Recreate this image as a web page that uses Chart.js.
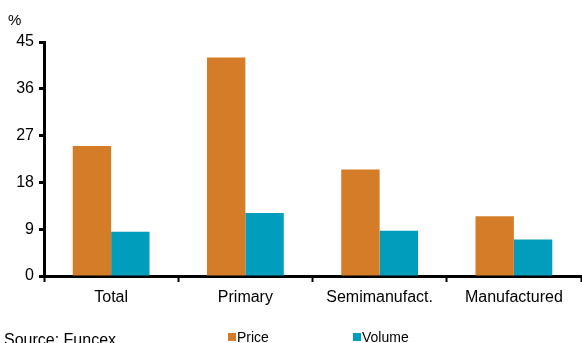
<!DOCTYPE html>
<html>
<head>
<meta charset="utf-8">
<script src="https://cdn.jsdelivr.net/npm/chart.js@4"></script>
<style>
  html, body { margin: 0; padding: 0; background: #fff; }
  #wrap { width: 582px; height: 343px; position: relative; }
</style>
</head>
<body>
<div id="wrap"><canvas id="c" width="582" height="343"></canvas></div>
<script>
const categories = ['Total', 'Primary', 'Semimanufact.', 'Manufactured'];
const priceValues = [25.0, 42.0, 20.5, 11.5];
const volumeValues = [8.5, 12.1, 8.7, 7.0];
const yTicks = [0, 9, 18, 27, 36, 45];

const FONT = 'Liberation Sans, Arial, Helvetica, sans-serif';

// Unit label, source note and the legend drawn below the axis
const annotations = {
  id: 'annotations',
  afterDraw(chart) {
    const ctx = chart.ctx;
    ctx.save();
    ctx.fillStyle = '#000';
    ctx.textBaseline = 'alphabetic';
    ctx.textAlign = 'left';
    ctx.font = '15px ' + FONT;
    ctx.fillText('%', 8, 25);
    ctx.font = '16px ' + FONT;
    ctx.fillText('Source: Funcex', 4, 345);

    const items = [{ x: 228 }, { x: 353 }];
    ctx.font = '14px ' + FONT;
    chart.data.datasets.forEach((ds, i) => {
      const x = items[i].x;
      ctx.fillStyle = ds.backgroundColor;
      ctx.fillRect(x, 333, 8, 8);
      ctx.fillStyle = '#000';
      ctx.fillText(ds.label, x + 9, 342);
    });
    ctx.restore();
  }
};

new Chart(document.getElementById('c'), {
  type: 'bar',
  data: {
    labels: categories,
    datasets: [
      { label: 'Price', data: priceValues, backgroundColor: 'rgb(213,124,41)' },
      { label: 'Volume', data: volumeValues, backgroundColor: 'rgb(0,157,189)' }
    ]
  },
  options: {
    responsive: false,
    animation: false,
    devicePixelRatio: 1,
    layout: { padding: { top: 42, right: 1, left: 0, bottom: 0 } },
    datasets: { bar: { categoryPercentage: 0.572, barPercentage: 1.0 } },
    plugins: { legend: { display: false }, tooltip: { enabled: false } },
    scales: {
      x: {
        grid: { drawOnChartArea: false, offset: true, tickLength: 6, tickColor: '#000', tickWidth: 2 },
        border: { display: true, color: '#000', width: 3 },
        ticks: { color: '#000', font: { family: FONT, size: 16 }, padding: 6, maxRotation: 0, autoSkip: false },
        afterFit(scale) { scale.height = 67; }
      },
      y: {
        min: 0,
        max: 45,
        afterBuildTicks(scale) { scale.ticks = yTicks.map(v => ({ value: v })); },
        grid: { drawOnChartArea: false, tickLength: 5, tickColor: '#000', tickWidth: 3 },
        border: { display: true, color: '#000', width: 3 },
        ticks: { color: '#000', font: { family: FONT, size: 16 }, padding: 5 },
        afterFit(scale) { scale.width = 44; }
      }
    }
  },
  plugins: [annotations]
});
</script>
</body>
</html>
